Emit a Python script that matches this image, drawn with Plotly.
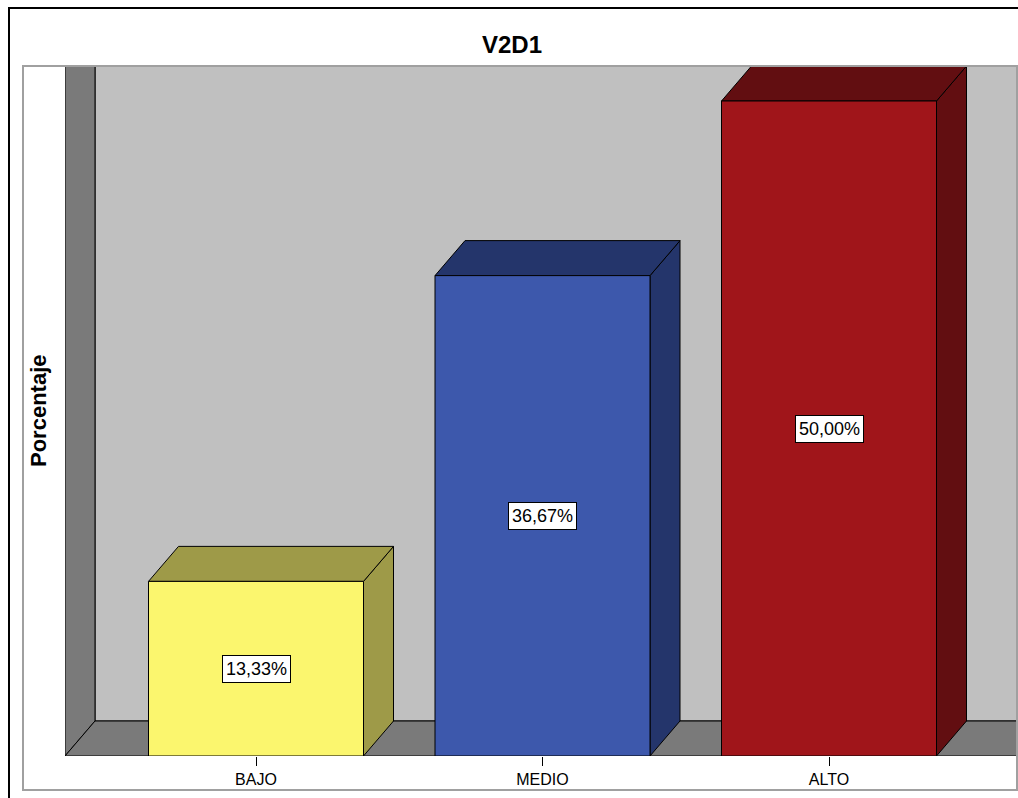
import plotly.graph_objects as go

# ---- data ----
categories = ["BAJO", "MEDIO", "ALTO"]
values = [13.33, 36.67, 50.00]
title_text = "V2D1"
y_title = "Porcentaje"

# ---- style ----
front_colors = ["#FBF66E", "#3D58AC", "#A0151A"]
dark_colors = ["#9E9A48", "#24356B", "#620E11"]
wall_color = "#7A7A7A"
back_color = "#C0C0C0"

W, H = 1018, 798
ml, mr, mt, mb = 65, 0, 66, 42
plot_w = W - ml - mr
plot_h = H - mt - mb

# axis scales (pixels per unit)
px_per_cat = 286.5
px_per_pct = 13.1
x_min = -(256 - 65) / px_per_cat
x_max = x_min + plot_w / px_per_cat
y_top = plot_h / px_per_pct

depth_x = 30 / px_per_cat
depth_y = 35 / px_per_pct
half_w = 107.5 / px_per_cat

fig = go.Figure()


def poly(xs, ys, fill, lw=1):
    fig.add_trace(go.Scatter(
        x=xs + [xs[0]], y=ys + [ys[0]], mode="lines", fill="toself",
        fillcolor=fill, line=dict(color="#000000", width=lw),
        hoverinfo="skip", showlegend=False))


# back wall
poly([x_min + depth_x, x_max + 1, x_max + 1, x_min + depth_x],
     [depth_y, depth_y, y_top + 5, y_top + 5], back_color)
# left wall
poly([x_min, x_min + depth_x, x_min + depth_x, x_min],
     [0, depth_y, y_top + 5, y_top + 5], wall_color)
# floor
poly([x_min, x_max + 1, x_max + 1, x_min + depth_x],
     [0, 0, depth_y, depth_y], wall_color)

# bars
for i, (cat, v) in enumerate(zip(categories, values)):
    l, r = i - half_w, i + half_w
    # side face
    poly([r, r + depth_x, r + depth_x, r], [0, depth_y, v + depth_y, v], dark_colors[i])
    # top face
    poly([l, r, r + depth_x, l + depth_x], [v, v, v + depth_y, v + depth_y], dark_colors[i])
    # front face
    poly([l, r, r, l], [0, 0, v, v], front_colors[i])
    fig.add_annotation(
        x=i, y=v / 2, xref="x", yref="y", showarrow=False,
        xanchor="center", yanchor="middle",
        text=f"{v:.2f}".replace(".", ",") + "%",
        font=dict(family="Liberation Sans, Arial", size=18, color="#000000"),
        bgcolor="#FFFFFF", bordercolor="#000000", borderwidth=1, borderpad=3)

# axis title
fig.add_annotation(
    x=(38 - ml) / plot_w, y=(H - mb - 411) / plot_h, xref="paper", yref="paper",
    xanchor="center", yanchor="middle",
    text=f"<b>{y_title}</b>", textangle=-90, showarrow=False,
    font=dict(family="Liberation Sans, Arial", size=22, color="#000000"))

# frames
fig.add_shape(type="rect", xref="paper", yref="paper",
              x0=(23 - ml) / plot_w, x1=(1017 - ml) / plot_w,
              y0=(H - mb - 790) / plot_h, y1=1.0,
              line=dict(color="#A0A0A0", width=2), layer="above")
fig.add_shape(type="rect", xref="paper", yref="paper",
              x0=(9 - ml) / plot_w, x1=(1040 - ml) / plot_w,
              y0=(H - mb - 820) / plot_h, y1=(H - mb - 8) / plot_h,
              line=dict(color="#000000", width=2), layer="above")

fig.update_layout(
    width=W, height=H,
    margin=dict(l=ml, r=mr, t=mt, b=mb, pad=0),
    paper_bgcolor="#FFFFFF", plot_bgcolor="#FFFFFF",
    title=dict(text=f"<b>{title_text}</b>", x=512 / W, xanchor="center",
               y=1 - 45 / H, yanchor="middle", yref="container",
               font=dict(family="Liberation Sans, Arial", size=24, color="#000000")),
    xaxis=dict(range=[x_min, x_max], tickvals=list(range(len(categories))),
               ticktext=categories, showgrid=False, zeroline=False,
               ticks="outside", ticklen=9, tickcolor="#000000", tickwidth=1,
               tickfont=dict(family="Liberation Sans, Arial", size=16, color="#000000"),
               fixedrange=True),
    yaxis=dict(range=[0, y_top], showgrid=False, zeroline=False,
               showticklabels=False, ticks="", fixedrange=True),
    showlegend=False,
)

fig.write_html("out.html")
